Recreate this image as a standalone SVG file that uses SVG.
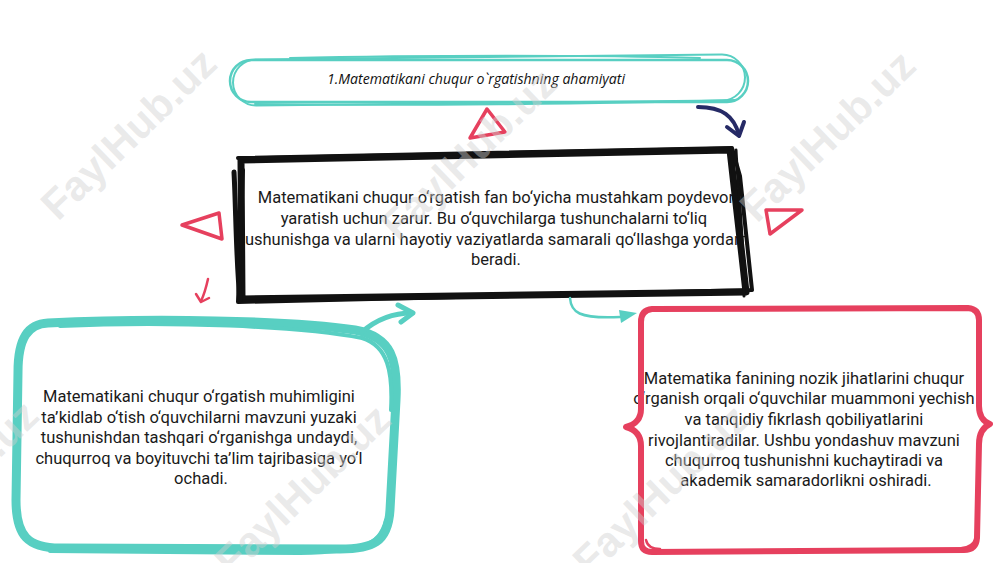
<svg xmlns="http://www.w3.org/2000/svg" width="1000" height="563" viewBox="0 0 1000 563">
<style>
.teal{fill:none;stroke:#58cfc2;stroke-linecap:round;stroke-linejoin:round}
.red{fill:none;stroke:#e6405e;stroke-linecap:round;stroke-linejoin:round}
.blk{fill:none;stroke:#111;stroke-linecap:round;stroke-linejoin:round}
.navy{fill:none;stroke:#262a66;stroke-linecap:round;stroke-linejoin:round}
.body{font-family:Roboto,"Liberation Sans",sans-serif;font-size:16.5px;fill:#1a1a1a;text-anchor:middle}
.title{font-family:"Open Sans","Liberation Sans",sans-serif;font-style:italic;font-size:15px;fill:#111;text-anchor:middle}
.wm{font-family:"Liberation Sans",Arial,sans-serif;font-weight:bold;font-size:42px;fill:#d0d0d0;fill-opacity:0.45}
</style>
<rect width="1000" height="563" fill="#fff"/>

<g id="title">
  <rect class="teal" x="230" y="60" width="518" height="42" rx="21" stroke-width="2.5"/>
  <rect class="teal" x="233" y="57" width="512" height="46" rx="23" stroke-width="2" transform="rotate(-0.6 489 80)"/>
  <path class="teal" d="M290,58 C420,55 600,55 700,58" stroke-width="2"/>
  <path class="teal" d="M255,104 C400,106 600,104 735,100" stroke-width="2"/>
  <text class="title" x="476" y="84" textLength="298" lengthAdjust="spacingAndGlyphs">1.Matematikani chuqur o`rgatishning ahamiyati</text>
</g>

<g id="main">
  <text class="body">
    <tspan x="498" y="203">Matematikani chuqur o‘rgatish fan bo‘yicha mustahkam poydevor</tspan>
    <tspan x="496" y="224">yaratish uchun zarur. Bu o‘quvchilarga tushunchalarni to‘liq</tspan>
    <tspan x="496" y="245">tushunishga va ularni hayotiy vaziyatlarda samarali qo‘llashga yordam</tspan>
    <tspan x="496" y="265">beradi.</tspan>
  </text>
  <path class="blk" d="M241,160 L730,150 L746,292 L242,299 Z" stroke-width="7"/>
  <path class="blk" d="M238,158 L732,148 L740,176 L752,290 L238,302 L243,170" stroke-width="4"/>
  <path class="blk" d="M234,172 C236,210 236,260 240,300" stroke-width="5"/>
  <path class="blk" d="M736,150 C738,190 744,240 744,296" stroke-width="3"/>
</g>

<g id="left">
  <text class="body">
    <tspan x="201" y="402">Matematikani chuqur o‘rgatish muhimligini</tspan>
    <tspan x="201" y="423">ta’kidlab o‘tish o‘quvchilarni mavzuni yuzaki</tspan>
    <tspan x="201" y="443">tushunishdan tashqari o‘rganishga undaydi,</tspan>
    <tspan x="201" y="464">chuqurroq va boyituvchi ta’lim tajribasiga yo‘l</tspan>
    <tspan x="201" y="484">ochadi.</tspan>
  </text>
  <path class="teal" d="M48,323 C150,318 290,320 355,330 C392,337 398,360 396,400 L390,510 C388,543 372,549 340,549 L60,548 C28,548 16,536 16,500 L18,372 C18,338 28,324 48,323 Z" stroke-width="9"/>
  <path class="teal" d="M60,326 C170,321 300,326 362,338 C388,346 393,372 391,410 M386,520 C380,546 360,552 300,553 L50,551" stroke-width="4"/>
</g>

<g id="right">
  <text class="body">
    <tspan x="806" y="384">Matematika fanining nozik jihatlarini chuqur</tspan>
    <tspan x="806" y="404">o‘rganish orqali o‘quvchilar muammoni yechish</tspan>
    <tspan x="806" y="425">va tanqidiy fikrlash qobiliyatlarini</tspan>
    <tspan x="806" y="446">rivojlantiradilar. Ushbu yondashuv mavzuni</tspan>
    <tspan x="806" y="466">chuqurroq tushunishni kuchaytiradi va</tspan>
    <tspan x="806" y="486">akademik samaradorlikni oshiradi.</tspan>
  </text>
  <path class="red" d="M652,309 L968,308 Q979,309 979,320 L979,406 Q979,420 990,424 Q979,429 979,444 L977,538 Q976,550 964,550 L652,552 Q641,552 641,541 L641,446 Q641,431 626,427 Q641,423 641,409 L641,322 Q641,310 652,309 Z" stroke-width="6"/>
  <path class="red" d="M646,540 Q648,549 660,549 M975,540 Q972,547 962,548" stroke-width="2.5"/>
</g>

<g id="connectors">
  <path class="navy" d="M698,107 C722,107 734,116 739,135" stroke-width="4"/>
  <path class="navy" d="M727,127 L739,136 L744,122" stroke-width="4"/>
  <path class="red" d="M487,109 L470,138 L505,132 Z" stroke-width="3.5"/>
  <path class="red" d="M182,225 L219,213 L222,239 Z" stroke-width="3.5"/>
  <path class="red" d="M766,210 L802,210 L770,234 Z" stroke-width="3.5"/>
  <path class="red" d="M208,279 C206,288 204,295 201,301" stroke-width="2.5"/>
  <path class="red" d="M196,294 L201,302 L209,298" stroke-width="2.5"/>
  <path class="teal" d="M362,332 C378,318 395,313 412,313" stroke-width="5"/>
  <path class="teal" d="M398,305 L413,313 L401,322" stroke-width="5"/>
  <path class="teal" d="M570,298 C571,312 578,319 620,317" stroke-width="2.5"/>
  <path d="M619,310 L637,313 L621,323 Z" fill="#58cfc2"/>
</g>

<g id="watermark">
  <text class="wm" transform="translate(58,222) rotate(-44)">FaylHub.uz</text>
  <text class="wm" transform="translate(398,242) rotate(-44)">FaylHub.uz</text>
  <text class="wm" transform="translate(757,224) rotate(-44)">FaylHub.uz</text>
  <text class="wm" transform="translate(232,578) rotate(-44)">FaylHub.uz</text>
  <text class="wm" transform="translate(590,578) rotate(-44)">FaylHub.uz</text>
  <text class="wm" transform="translate(-120,574) rotate(-44)">FaylHub.uz</text>
</g>
</svg>
